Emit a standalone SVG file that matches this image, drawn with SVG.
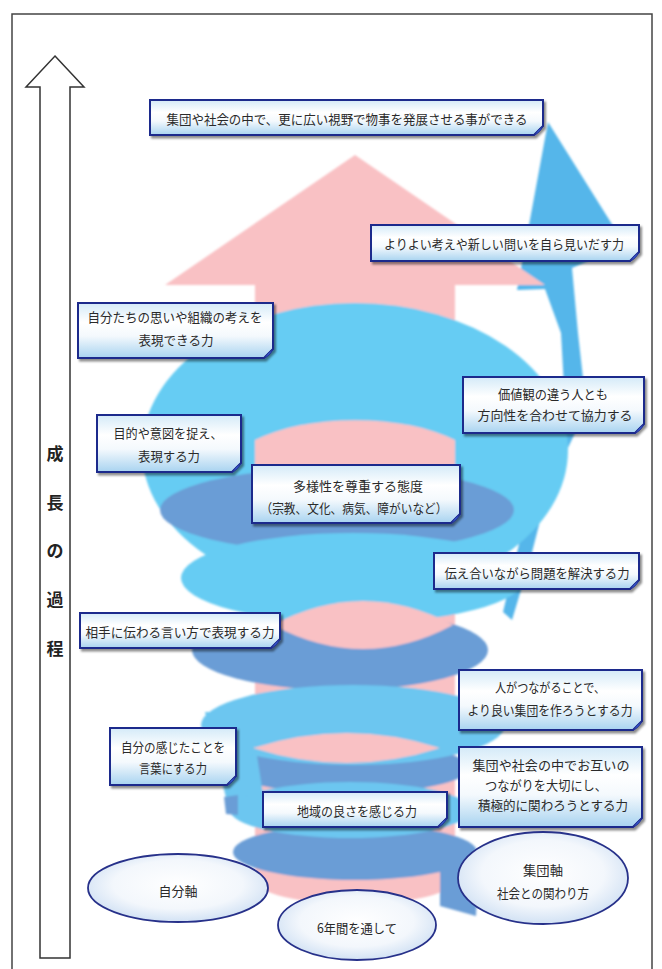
<svg xmlns="http://www.w3.org/2000/svg" width="662" height="969" viewBox="0 0 662 969">
<defs>
<linearGradient id="boxg" x1="0" y1="0" x2="0" y2="1">
<stop offset="0" stop-color="#d4eaf8"/>
<stop offset="0.35" stop-color="#ffffff"/>
<stop offset="0.6" stop-color="#f4f9fd"/>
<stop offset="1" stop-color="#a8d3f0"/>
</linearGradient>
<radialGradient id="ellg" cx="0.5" cy="0.45" r="0.6">
<stop offset="0" stop-color="#ffffff"/>
<stop offset="0.6" stop-color="#f3f7fc"/>
<stop offset="1" stop-color="#c9dcf2"/>
</radialGradient>
<filter id="sh" x="-10%" y="-20%" width="120%" height="150%">
<feDropShadow dx="2" dy="2.5" stdDeviation="1.3" flood-color="#000" flood-opacity="0.45"/>
</filter>
<filter id="soft" x="-5%" y="-5%" width="110%" height="110%">
<feGaussianBlur stdDeviation="1.2"/>
</filter>
</defs>
<style>
.box{fill:url(#boxg);stroke:#1f2a8c;stroke-width:2;filter:url(#sh)}
.curl{fill:#3558c9;stroke:#1f2a8c;stroke-width:0.8}
.t{font-family:"Noto Sans CJK JP","Noto Sans CJK SC",sans-serif;font-size:13px;fill:#2a2a2a;text-anchor:middle;dominant-baseline:central}
.ell{fill:url(#ellg);stroke:#27318a;stroke-width:1.8}
.v{font-family:"Noto Sans CJK JP","Noto Sans CJK SC",sans-serif;font-size:17px;font-weight:bold;fill:#222;text-anchor:middle;dominant-baseline:central}
.cy{fill:#66ccf3}
.cy2{fill:#6cc6f0}
.dk{fill:#6a9dd6}
.pk{fill:#f9c1c4}
.rb{fill:#55b6ea}
</style>
<rect width="662" height="969" fill="#ffffff"/>
<g id="frame">
<rect x="12" y="14" width="640" height="965" fill="none" stroke="#444" stroke-width="1.5"/>
</g>
<g id="growth-arrow">
<path d="M55,56 L84,87 L70,87 L70,958 L40,958 L40,87 L26,87 Z" fill="#fff" stroke="#333" stroke-width="1.5"/>
<text class="v" x="55" y="452">成</text>
<text class="v" x="55" y="501">長</text>
<text class="v" x="55" y="549">の</text>
<text class="v" x="55" y="598">過</text>
<text class="v" x="55" y="647">程</text>
</g>
<g id="illustration" filter="url(#soft)">
<path class="rb" d="M548,122 L625,245 L572,268 L578,333 L584,387 L575,433 L548,490 L530,560 L512,620 L503,612 L520,540 L540,480 L562,433 L564,387 L561,333 L545,289 L517,290 Z"/>
<path class="pk" d="M355,155 L545,285 L455,285 L455,880 A100,24 0 0,1 255,880 L255,285 L165,285 Z"/>
<ellipse class="cy" cx="355" cy="450" rx="213" ry="147"/>
<path class="pk" d="M255,440 A130,55 0 0,1 455,440 L455,500 L255,500 Z"/>
<ellipse class="dk" cx="337" cy="510" rx="177" ry="42"/>
<ellipse class="dk" cx="340" cy="650" rx="148" ry="40"/>
<ellipse class="cy" cx="353" cy="578" rx="172" ry="45"/>
<path class="pk" d="M273,625 Q363,577 453,625 Q363,673 273,625 Z"/>
<ellipse class="dk" cx="348" cy="768" rx="122" ry="25"/>
<path class="cy2" d="M205,712 L250,712 L264,800 L228,806 Z"/>
<ellipse class="cy2" cx="353" cy="725" rx="152" ry="40"/>
<path class="pk" d="M253,748 Q347,718 440,748 Q347,778 253,748 Z"/>
<ellipse class="pk" cx="352" cy="878" rx="100" ry="24"/>
<path class="dk" d="M440,860 L478,868 L476,916 L440,906 Z"/>
<ellipse class="dk" cx="355" cy="852" rx="122" ry="28"/>
<ellipse class="cy2" cx="350" cy="810" rx="120" ry="28"/>
<path class="dk" d="M224,797 L238,795 L238,815 L226,814 Z"/>
</g>
<g id="n1">
<path class="box" d="M150,100 H543 V126 L534,135 H150 Z"/>
<path class="curl" d="M543,126 Q540,133 534,135 Q538,129 543,126 Z"/>
<text class="t" x="347" y="118" textLength="361" lengthAdjust="spacingAndGlyphs">集団や社会の中で、更に広い視野で物事を発展させる事ができる</text>
</g>
<g id="n2">
<path class="box" d="M371,225 H639 V252 L630,261 H371 Z"/>
<path class="curl" d="M639,252 Q636,259 630,261 Q634,255 639,252 Z"/>
<text class="t" x="504" y="243" textLength="240" lengthAdjust="spacingAndGlyphs">よりよい考えや新しい問いを自ら見いだす力</text>
</g>
<g id="n3">
<path class="box" d="M78,303 H273 V349 L264,358 H78 Z"/>
<path class="curl" d="M273,349 Q270,356 264,358 Q268,352 273,349 Z"/>
<text class="t" x="175" y="316" textLength="175" lengthAdjust="spacingAndGlyphs">自分たちの思いや組織の考えを</text>
<text class="t" x="176" y="339" textLength="75" lengthAdjust="spacingAndGlyphs">表現できる力</text>
</g>
<g id="n4">
<path class="box" d="M463,377 H644 V424 L635,433 H463 Z"/>
<path class="curl" d="M644,424 Q641,431 635,433 Q639,427 644,424 Z"/>
<text class="t" x="553" y="393" textLength="110" lengthAdjust="spacingAndGlyphs">価値観の違う人とも</text>
<text class="t" x="555" y="414" textLength="155" lengthAdjust="spacingAndGlyphs">方向性を合わせて協力する</text>
</g>
<g id="n5">
<path class="box" d="M97,415 H241 V463 L232,472 H97 Z"/>
<path class="curl" d="M241,463 Q238,470 232,472 Q236,466 241,463 Z"/>
<text class="t" x="168" y="432" textLength="109" lengthAdjust="spacingAndGlyphs">目的や意図を捉え、</text>
<text class="t" x="169" y="455" textLength="62" lengthAdjust="spacingAndGlyphs">表現する力</text>
</g>
<g id="n6">
<path class="box" d="M252,465 H460 V514 L451,523 H252 Z"/>
<path class="curl" d="M460,514 Q457,521 451,523 Q455,517 460,514 Z"/>
<text class="t" x="358" y="485" textLength="130" lengthAdjust="spacingAndGlyphs">多様性を尊重する態度</text>
<text class="t" x="354" y="507" textLength="187" lengthAdjust="spacingAndGlyphs">（宗教、文化、病気、障がいなど）</text>
</g>
<g id="n7">
<path class="box" d="M434,553 H639 V580 L630,589 H434 Z"/>
<path class="curl" d="M639,580 Q636,587 630,589 Q634,583 639,580 Z"/>
<text class="t" x="537" y="572" textLength="185" lengthAdjust="spacingAndGlyphs">伝え合いながら問題を解決する力</text>
</g>
<g id="n8">
<path class="box" d="M80,613 H280 V639 L271,648 H80 Z"/>
<path class="curl" d="M280,639 Q277,646 271,648 Q275,642 280,639 Z"/>
<text class="t" x="180" y="631" textLength="189" lengthAdjust="spacingAndGlyphs">相手に伝わる言い方で表現する力</text>
</g>
<g id="n9">
<path class="box" d="M459,670 H642 V721 L633,730 H459 Z"/>
<path class="curl" d="M642,721 Q639,728 633,730 Q637,724 642,721 Z"/>
<text class="t" x="550" y="686" textLength="110" lengthAdjust="spacingAndGlyphs">人がつながることで、</text>
<text class="t" x="550" y="709" textLength="165" lengthAdjust="spacingAndGlyphs">より良い集団を作ろうとする力</text>
</g>
<g id="n10">
<path class="box" d="M110,728 H236 V776 L227,785 H110 Z"/>
<path class="curl" d="M236,776 Q233,783 227,785 Q231,779 236,776 Z"/>
<text class="t" x="173" y="746" textLength="104" lengthAdjust="spacingAndGlyphs">自分の感じたことを</text>
<text class="t" x="173" y="767" textLength="68" lengthAdjust="spacingAndGlyphs">言葉にする力</text>
</g>
<g id="n11">
<path class="box" d="M459,747 H642 V818 L633,827 H459 Z"/>
<path class="curl" d="M642,818 Q639,825 633,827 Q637,821 642,818 Z"/>
<text class="t" x="551" y="764" textLength="157" lengthAdjust="spacingAndGlyphs">集団や社会の中でお互いの</text>
<text class="t" x="546" y="784" textLength="122" lengthAdjust="spacingAndGlyphs">つながりを大切にし、</text>
<text class="t" x="553" y="804" textLength="150" lengthAdjust="spacingAndGlyphs">積極的に関わろうとする力</text>
</g>
<g id="n12">
<path class="box" d="M263,792 H447 V818 L438,827 H263 Z"/>
<path class="curl" d="M447,818 Q444,825 438,827 Q442,821 447,818 Z"/>
<text class="t" x="357" y="810" textLength="120" lengthAdjust="spacingAndGlyphs">地域の良さを感じる力</text>
</g>
<g id="e1">
<ellipse class="ell" cx="178" cy="888" rx="90" ry="34"/>
<text class="t" x="178" y="890" textLength="39" lengthAdjust="spacingAndGlyphs">自分軸</text>
</g>
<g id="e2">
<ellipse class="ell" cx="357" cy="925" rx="79" ry="35"/>
<text class="t" x="357" y="927" textLength="80" lengthAdjust="spacingAndGlyphs">6年間を通して</text>
</g>
<g id="e3">
<ellipse class="ell" cx="543" cy="878" rx="85" ry="46"/>
<text class="t" x="543" y="869" textLength="40" lengthAdjust="spacingAndGlyphs">集団軸</text>
<text class="t" x="543" y="892" textLength="92" lengthAdjust="spacingAndGlyphs">社会との関わり方</text>
</g>
</svg>
